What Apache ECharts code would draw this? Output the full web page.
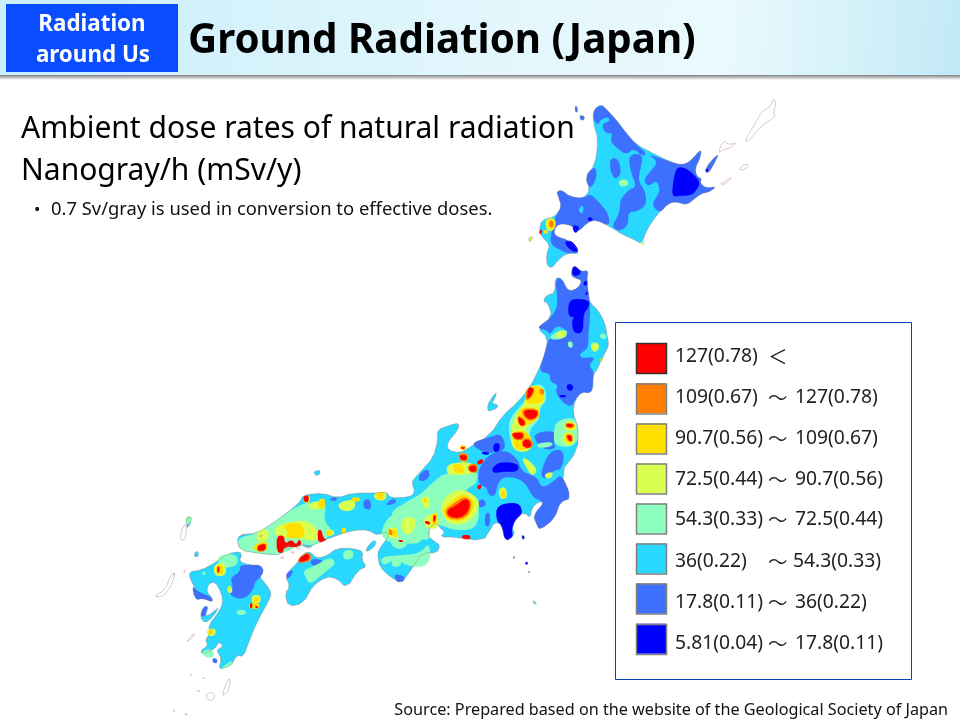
<!DOCTYPE html>
<html><head><meta charset="utf-8">
<style>html,body{margin:0;padding:0;background:#fff}#c{width:960px;height:720px}</style>
<script src="https://cdn.jsdelivr.net/npm/echarts@6/dist/echarts.min.js"></script>
</head><body><div id="c"></div>
<script>
// Dose classes (nGy/h): legend texts, class lower bounds, colours
const legendLow = ['127(0.78)','109(0.67)','90.7(0.56)','72.5(0.44)','54.3(0.33)','36(0.22)','17.8(0.11)','5.81(0.04)'];
const legendSep = ['＜','～','～','～','～','～','～','～'];
const legendHigh = ['','127(0.78)','109(0.67)','90.7(0.56)','72.5(0.44)','54.3(0.33)','36(0.22)','17.8(0.11)'];
const classBounds = [127,109,90.7,72.5,54.3,36,17.8,5.81];
const classColors = ['#ff0000','#ff8000','#ffe000','#d9ff50','#8cffbe','#28d8ff','#3d70ff','#0000ff'];
// Painting order of the map layers, each with a dose value
const layerValues = [45,27,12,45,63,81,100,118,140];
// Traced outlines: [tile, flat x,y list]. Tiles are traced sheets with an origin and a scale.
const tiles = {Z:[0,0,1],A:[500,90,3],B:[450,260,3],C:[390,430,3],D:[220,470,3],E:[140,510,3]};
const land = [
 ['A',[280,60,305,42,320,60,350,90,375,125,410,165,470,195,510,215,545,225,570,215,605,175,600,205,585,235,590,260,605,265,600,280,620,295,650,288,630,305,605,310,585,325,560,345,530,335,505,340,470,375,440,420,425,462,405,450,370,435,330,410,290,390,265,395,232,428,215,405,175,400,160,425,170,440,205,450,243,490,200,490,175,510,155,535,140,525,140,490,150,465,125,440,118,420,125,390,165,380,185,350,175,320,170,305,185,300,210,320,250,325,270,300,255,260,285,225,295,150,280,100]],
 ['Z',[573,265,582,272,588,270,587,280,588,292,590,303,598,310,605,323,607,335,609,345,605,353,600,363,597,370,593,375,593,388,590,393,582,392,575,400,573,413,578,427,578,450,560,473,572,498,560,502,555,518,540,530,537,525,533,515,545,502,538,502,532,508,530,518,525,513,518,515,512,527,515,535,505,542,502,525,495,522,490,530,483,541,453,537,440,537,445,532,440,528,437,523,432,525,427,535,435,542,440,545,437,553,422,553,413,567,402,583,390,577,380,567,378,558,378,550,390,535,387,532,377,535,368,530,357,530,347,532,330,538,317,543,308,548,302,545,295,546,285,545,282,553,275,555,257,553,240,550,237,540,240,535,257,533,270,525,288,512,300,502,303,495,323,493,337,498,353,493,377,493,387,492,390,498,410,497,415,492,412,483,413,480,422,470,433,458,438,440,437,430,450,425,459,423,458,430,447,443,448,450,460,453,470,447,490,435,503,415,517,403,530,387,540,367,545,353,548,338,537,328,552,317,548,303,543,301,547,295,555,293,555,278,562,278,568,292,578,288,582,280,575,278,571,275]],
 ['E',[148,185,185,180,230,155,265,130,300,125,305,135,298,155,330,165,362,165,372,185,358,200,380,225,395,250,385,275,365,310,345,350,325,400,310,440,290,435,275,465,235,480,245,445,228,420,250,410,238,395,225,415,205,425,185,430,182,422,205,405,195,390,215,365,203,350,240,300,248,280,245,250,225,215,205,222,200,245,215,262,220,275,190,265,165,270,170,245,160,225,150,205]],
 ['E',[180,320,190,290,205,288,195,320,215,310,240,285,220,320,195,340]],
 ['D',[195,315,235,275,250,250,270,245,290,265,320,258,350,235,400,235,430,245,425,270,440,290,415,300,380,355,350,325,320,320,280,345,250,400,205,410,195,370,210,350]],
 ['D',[435,240,462,208,470,222,445,245]],
 ['B',[140,395,120,420,112,440,115,455,140,445,145,435,125,430,135,415]],
 ['A',[240,75,255,80,250,92,240,88]],['A',[225,48,232,50,232,70,226,65]],
 ['A',[85,445,98,437,95,450,90,457]],['A',[615,235,650,195,655,195,640,225,625,250]],
 ['E',[165,125,175,125,175,140,162,140]],['E',[140,25,155,20,150,45,140,55]],
 ['D',[280,5,300,0,300,12,288,18]],
 ['C',[395,315,403,318,403,328,397,328]],['C',[407,395,415,397,412,405,405,402]],['C',[369,379,376,380,374,386,369,385]],['C',[415,422,421,424,419,429,415,428]],['C',[428,512,440,518,438,524,430,518]]
];
const outlineIslands = [
 ['A',[655,190,668,152,690,165,712,155,690,175,670,178]],
 ['A',[735,150,760,110,785,65,812,50,820,25,828,40,820,70,828,80,780,110,745,155]],
 ['A',[718,235,740,220,747,230,725,242]],['A',[660,280,672,278,680,270,690,265,695,258,688,272,670,285]],
 ['E',[125,60,135,40,140,55,135,90,120,90]],
 ['E',[40,260,75,240,95,190,105,190,95,225,70,260]],
 ['E',[140,395,160,370,165,372,145,395]],
 ['E',[245,560,262,510,272,508,265,545]],['E',[195,555,215,545,227,560,210,575]],
 ['E',[133,610,143,612,140,618]],['E',[170,540,180,542,178,548]],['E',[150,492,156,494,152,498]],
 ['E',[100,190,106,192,102,198]],['E',[130,180,138,182,134,190]],['E',[188,502,194,504,190,508]],['E',[100,600,106,602,102,607]],
 ['D',[200,230,210,226,212,238,202,240]],['D',[225,232,240,228,238,238]],['D',[255,232,275,226,272,236]],['D',[180,262,192,258,190,268]],['D',[60,195,75,190,72,198]],['D',[118,198,128,192,125,202]],['D',[245,222,258,220,256,228]],['D',[212,246,224,244,222,252]]
];
const bluePatches = [
 ['A',[280,60,305,42,345,85,375,125,410,165,440,190,430,200,400,175,380,195,345,170,330,150,340,130,315,130,305,100,330,95,325,80,300,90,295,105,280,90]],
 ['A',[440,190,510,215,545,225,570,215,605,175,600,205,585,235,590,260,605,265,600,280,620,295,650,288,630,305,605,310,585,325,560,345,530,335,505,340,480,370,455,345,470,320,480,300,470,270,445,290,430,270,455,240,475,215]],
 ['A',[385,205,400,190,430,195,420,240,415,275,435,300,440,345,410,365,385,365,385,405,360,425,335,410,350,385,360,360,360,330,385,300,410,290,395,255]],
 ['A',[330,205,355,205,365,250,345,270,330,240]],['A',[465,210,500,220,490,235,470,235]],
 ['A',[175,320,170,305,185,300,210,320,250,325,270,310,300,340,325,370,330,410,290,390,265,395,232,428,215,405,175,400,160,425,170,440,205,450,243,490,200,490,180,480,155,465,150,445,165,380,185,350]],
 ['A',[255,260,285,225,292,260,270,300]],['A',[240,75,255,80,250,92,240,88]],['A',[225,48,232,50,232,70,226,65]],['A',[615,235,650,195,655,195,640,225,625,250]],
 ['B',[315,55,335,55,355,95,385,85,397,60,375,55,362,45,370,15,395,35,415,30,410,60,420,130,420,170,415,225,415,265,390,280,392,295,440,290,415,315,432,335,430,345,428,385,420,400,395,395,375,420,365,440,340,430,315,395,325,375,300,365,300,340,265,335,285,280,295,235,320,228,352,225,350,210,320,195,300,225,290,210,260,205,280,190,305,170,325,135]],
 ['C',[265,115,300,70,350,60,385,90,395,125,440,140,455,175,490,155,515,130,545,205,510,215,495,265,450,300,440,285,430,255,465,215,430,205,410,165,385,145,345,140,325,155,315,200,295,195,290,170,265,165]],
 ['C',[240,40,300,20,335,10,350,60,300,70,275,65]],['C',[430,10,500,0,490,40,500,55,465,60,440,40]],['C',[480,60,525,60,515,120,490,120,465,150,450,130]],
 ['C',[90,130,115,115,120,140,100,155,85,150]],['C',[15,430,35,440,30,460,15,450]],['C',[285,250,300,245,300,290,285,290]],['C',[262,215,280,205,290,225,270,235]],
 ['D',[330,85,350,80,352,92,330,92]],['D',[430,90,450,85,455,120,430,115]],['D',[495,108,510,90,525,85,530,100]],['D',[525,315,550,315,555,335,530,335]],['D',[275,265,310,270,300,288,270,285]],['D',[195,312,225,295,205,330]],
 ['E',[270,205,300,185,300,165,330,165,362,165,372,185,358,205,345,215,340,240,310,270,265,255,280,230]],
 ['E',[155,225,175,245,200,255,215,262,218,278,190,265,165,270]],['E',[180,320,190,290,205,288,195,320]],['E',[215,445,232,445,232,460,220,460]]
];
const navyPatches = [
 ['A',[530,230,560,235,590,262,600,280,590,300,575,315,540,318,515,320,520,270]],['A',[265,380,280,385,275,395,262,390]],['A',[215,405,240,408,232,428,222,428]],['A',[190,455,215,450,240,485,215,485]],['A',[615,238,625,235,625,248,618,248]],
 ['B',[370,115,420,120,415,145,400,160,400,220,370,220,365,180,375,170,355,170,355,130]],['B',[370,15,385,25,395,40,375,50,365,40]],['B',[400,65,412,62,412,75,402,78]],['B',[410,90,415,105,405,105]],['B',[348,375,365,370,372,388,355,395]],['B',[328,405,348,405,348,412,328,412]],
 ['C',[320,225,385,215,400,250,375,270,365,300,370,320,345,335,335,285,318,270]],['C',[305,115,330,95,385,100,385,125,340,125,310,130]],['C',[310,40,330,40,328,65,310,65]],['C',[275,65,300,68,295,75,275,72]],
 ['C',[395,315,403,318,403,328,397,328]],['C',[407,395,415,397,412,405,405,402]]
];
const cyanPatches = [
 ['A',[240,350,250,345,250,372,235,365]],['C',[330,155,400,150,415,185,410,212,385,215,325,222]],['C',[140,165,165,155,170,180,150,190]],['C',[225,300,240,295,245,310,225,312]],['D',[515,260,545,260,550,295,520,295]],['D',[450,150,490,155,480,195,455,190]]
];
const mintPatches = [
 ['A',[355,270,385,268,385,288,358,290]],['A',[420,450,435,455,430,470]],
 ['B',[180,470,230,420,235,380,280,370,292,420,270,440,268,480,235,510,250,560,190,565,175,520]],['B',[320,480,385,470,385,560,315,560,310,520]],['B',[295,235,318,215,352,208,350,232,320,240]],['B',[352,245,368,243,368,265,355,262]],['B',[450,220,470,222,468,238,450,235]],['B',[418,250,440,245,450,265,432,280]],
 ['C',[60,210,95,190,115,170,160,130,200,130,265,120,260,160,240,170,220,190,260,210,270,260,250,300,190,300,165,290,130,280,115,300,100,330,70,345,30,330,15,280,0,245]],['C',[0,295,30,300,60,340,30,360,0,345]],['C',[5,385,35,385,32,410,5,410]],['C',[440,40,490,35,485,50,445,55]],
 ['D',[50,205,110,190,150,165,240,100,300,95,320,110,310,150,340,185,320,205,290,225,240,225,190,250,150,255,110,250,60,240]],['D',[480,190,510,130,560,140,590,140,630,160,630,215,590,200,560,190,530,215,500,215]],['D',[480,260,550,255,600,250,630,215,630,290,560,290,530,260,490,290]],['D',[250,300,290,285,330,260,350,280,310,310,270,345,255,320]],['D',[370,240,400,240,400,265,370,270]],
 ['E',[180,425,215,415,225,440,200,445]],['E',[250,470,275,450,280,465,235,480]],['E',[290,300,320,300,315,315,290,315]],['E',[235,135,290,130,295,165,260,175,235,165]],['E',[190,180,200,195,185,195]],['E',[135,20,158,18,150,40,140,45]]
];
const limePatches = [
 ['A',[85,445,98,437,95,450,90,457]],['A',[362,272,378,272,372,284]],['A',[420,457,432,459,427,468]],['A',[135,385,168,385,165,420,140,425]],
 ['B',[225,395,240,375,280,380,285,425,270,435,268,470,235,495,225,510,245,560,195,565,180,510,200,460,225,430]],['B',[350,480,378,490,380,510,350,515,340,500]],['B',[340,520,370,525,370,550,345,555]],['B',[320,215,345,210,345,232,320,235]],['B',[420,260,440,245,450,262,432,278]],
 ['C',[150,230,170,195,215,175,260,200,270,225,250,265,215,285,170,280]],['C',[170,100,250,95,260,130,210,135,170,135]],['C',[95,200,120,200,115,225,95,225]],['C',[360,30,390,0,430,30,420,65,375,65]],['C',[325,175,348,170,352,205,330,208]],['C',[395,85,410,85,445,120,425,140,405,105]],['C',[465,130,490,125,485,145,465,145]],['C',[515,10,550,5,555,45,520,45]],['C',[105,255,145,250,145,300,100,290]],['C',[45,260,70,270,60,300,40,290]],['C',[0,300,15,300,30,330,5,320]],
 ['D',[160,170,215,155,260,150,300,185,290,215,240,205,170,205]],['D',[110,190,130,175,150,185,140,215,110,215]],['D',[265,100,310,90,312,115,270,120]],['D',[350,100,405,85,405,120,365,125]],['D',[320,180,340,178,345,195,320,198]],['D',[500,175,530,170,535,200,505,205]],['D',[540,145,590,140,580,190,550,195]],['D',[605,85,625,80,630,115,610,115]],['D',[460,70,500,62,498,92,465,90]],
 ['E',[335,255,362,255,362,280,335,280]],['E',[198,358,228,355,225,378,203,378]],['E',[222,160,258,160,258,198,222,198]],['E',[262,228,275,228,278,250,262,248]]
];
const yellowPatches = [
 ['A',[142,388,165,388,163,416,143,416]],['A',[130,420,145,420,143,432,130,430]],
 ['B',[228,400,250,378,270,378,285,410,275,430,225,432]],['B',[215,440,268,445,268,472,235,497,205,495,200,470]],['B',[190,515,225,510,248,540,245,565,205,565,190,535]],['B',[348,484,375,492,375,506,350,510]],['B',[345,525,365,528,365,548,348,550]],['B',[450,296,460,296,458,305,450,303]],['B',[30,556,48,556,48,570,30,570]],
 ['C',[160,235,190,210,215,190,245,205,255,225,240,255,215,275,175,270,160,255]],['C',[185,105,215,100,225,130,195,130]],['C',[205,70,235,70,235,95,210,95]],['C',[370,30,395,15,420,35,410,60,375,60]],['C',[522,10,550,10,550,38,528,38]],['C',[123,250,145,250,140,285,125,285]],['C',[335,180,345,180,348,205,332,205]],['C',[15,305,25,310,20,325,10,320]],['C',[100,205,112,205,110,218,100,218]],
 ['D',[185,165,235,155,255,180,250,205,195,205,205,185]],['D',[100,225,140,212,145,240,105,245]],['D',[318,182,335,180,338,195,320,197]],['D',[468,68,492,65,490,88,470,88]],['D',[510,180,528,175,530,195,512,198]],['D',[365,175,378,172,378,190,365,190]],['D',[395,82,420,82,420,95,395,95]],['D',[250,80,270,76,270,98,250,98]],['D',[295,88,315,85,315,115,295,118]],
 ['E',[205,360,222,358,220,373,207,373]],['E',[228,165,250,165,252,192,228,192]],['E',[340,262,358,262,358,276,340,276]],['E',[328,278,358,278,358,296,328,296]]
];
const orangePatches = [
 ['A',[148,392,160,392,160,412,148,412]],
 ['B',[268,385,282,388,282,405,270,403]],['B',[228,385,255,382,250,408,225,425]],['B',[217,445,265,447,265,473,240,484,218,470]],['B',[200,465,225,478,228,498,208,500]],['B',[183,517,222,515,224,538,192,542]],['B',[216,535,245,536,250,562,222,568]],['B',[346,487,376,492,368,505,346,503]],['B',[348,522,368,527,368,548,350,540]],
 ['C',[165,238,195,218,222,198,245,212,240,250,212,270,172,265]],['C',[205,70,235,70,233,95,208,92]],['C',[232,105,262,100,263,128,238,128]],['C',[360,8,398,8,402,28,378,30]],['C',[396,28,424,28,420,52,396,52]],
 ['D',[235,262,268,245,276,272,235,282]],['D',[110,225,140,218,138,244,112,246]],['D',[505,178,515,178,518,195,508,195]]
];
const redPatches = [
 ['A',[118,420,128,420,125,433,118,432]],
 ['B',[235,380,252,385,245,405,230,420]],['B',[222,450,262,450,262,470,240,480,222,465]],['B',[205,470,222,480,225,495,212,497,205,485]],['B',[185,520,218,518,220,535,195,538]],['B',[220,538,240,540,245,560,225,565]],['B',[350,490,372,495,365,502,350,500]],['B',[352,525,365,530,365,545,352,535]],['B',[33,560,45,560,45,568,35,568]],
 ['C',[170,240,200,225,225,205,240,215,235,245,210,265,175,260]],['C',[210,75,230,75,230,92,210,88]],['C',[235,110,258,105,260,125,240,125]],['C',[260,95,278,85,280,98,265,105]],['C',[262,165,275,165,272,178,263,178]],['C',[215,315,240,315,242,328,218,328]],['C',[130,255,138,255,135,278,130,278]],['C',[105,272,120,278,118,285]],['C',[25,330,40,330,38,335,25,335]],['C',[362,10,395,10,400,25,380,28]],['C',[400,30,420,30,418,50,398,50]],['C',[530,15,545,15,545,35,535,30]],
 ['D',[170,198,192,196,195,222,215,208,228,225,238,206,246,222,230,232,195,230,187,252,170,244]],['D',[292,182,304,178,310,204,322,210,295,220]],['D',[238,264,264,248,270,268,238,278]],['D',[113,228,137,220,137,241,113,243]],['D',[250,78,266,76,266,96,252,96]],['D',[535,210,550,210,550,216,535,216]],['D',[615,152,630,155,630,165,615,160]],
 ['E',[232,168,238,168,238,190,232,190]],['E',[330,280,337,280,337,295,330,295]],['E',[345,288,355,288,355,294,345,294]]
];

// Round the traced corners and give every ring the same winding, so overlapping rings add up
function roundCorners(pts){
  const out = [];
  for(let i=0;i<pts.length;i++){
    const a = pts[i], b = pts[(i+1)%pts.length];
    out.push([a[0]*0.75+b[0]*0.25, a[1]*0.75+b[1]*0.25],[a[0]*0.25+b[0]*0.75, a[1]*0.25+b[1]*0.75]);
  }
  return out;
}
function toRing(shape, passes){
  const [ox,oy,s] = tiles[shape[0]], f = shape[1];
  let r = [];
  for(let i=0;i<f.length;i+=2) r.push([ox+f[i]/s, -(oy+f[i+1]/s)]);
  for(let p=0;p<passes;p++) r = roundCorners(r);
  let area = 0;
  r.forEach((a,i)=>{const b=r[(i+1)%r.length]; area += a[0]*b[1]-b[0]*a[1];});
  if(area<0) r.reverse();
  r.push(r[0]);
  return [r];
}
function feature(name, shapes, passes){
  return {type:'Feature',properties:{name},geometry:{type:'MultiPolygon',coordinates:shapes.map(s=>toRing(s,passes))}};
}
const layerShapes = [land,bluePatches,navyPatches,cyanPatches,mintPatches,limePatches,yellowPatches,orangePatches,redPatches];
const layerPasses = [1,2,2,2,2,2,1,1,1];
const features = layerShapes.map((s,i)=>feature('layer'+i,s,layerPasses[i]));
features.push(feature('coast',land.concat(outlineIslands),1));
echarts.registerMap('japan',{type:'FeatureCollection',features});

const chart = echarts.init(document.getElementById('c'),null,{renderer:'canvas'});
const font = '"Noto Sans","Noto Sans CJK JP",sans-serif';
const pieces = classBounds.map((b,i)=>({
  label:' ', color:classColors[i], min:b, max:i===0?Infinity:classBounds[i-1]
}));
const swatchY = [343,383.5,423.5,463.5,503.5,543.5,583.5,624];
const labelY = [357,398,439,480,520,562,603,644];
const sepX = [768,768,768,768,768,768,768,768];
const highX = [0,795,795,795,795,793,795,795];
const legendText = [];
labelY.forEach((y,i)=>{
  const st = {fill:'#222',font:'19.3px '+font,verticalAlign:'middle'};
  legendText.push({type:'text',z:2,x:675,y,style:{...st,text:legendLow[i]}});
  legendText.push({type:'text',z:2,x:sepX[i],y,style:{...st,text:legendSep[i],font:'19.5px "Noto Sans CJK JP"'}});
  legendText.push({type:'text',z:2,x:highX[i],y,style:{...st,text:legendHigh[i]}});
});
chart.setOption({
  animation:false,
  backgroundColor:'#fff',
  visualMap:{
    type:'piecewise', show:true, pieces, seriesIndex:0, left:621, top:328,
    orient:'vertical', align:'left', itemWidth:30, itemHeight:30, itemGap:10.1, itemSymbol:'rect',
    textGap:9, padding:15, hoverLink:false, selectedMode:false,
    textStyle:{fontFamily:font,fontSize:18,color:'#222'}
  },
  series:[{
    type:'map', map:'japan', silent:true, roam:false, aspectScale:1,
    boundingCoords:[[0,0],[960,-720]],
    layoutCenter:['50%','50%'], layoutSize:960,
    label:{show:false}, emphasis:{disabled:true}, select:{disabled:true},
    itemStyle:{areaColor:'rgba(0,0,0,0)',borderColor:'rgba(165,110,110,0.75)',borderWidth:0.5},
    data:layerValues.map((value,i)=>({name:'layer'+i,value,itemStyle:{borderWidth:0}}))
  }],
  graphic:{elements:[
    {type:'rect',z:0,shape:{x:0,y:0,width:960,height:76},style:{fill:new echarts.graphic.LinearGradient(0,0,1,1,[{offset:0,color:'#c9eefb'},{offset:0.5,color:'#e2f6fc'},{offset:0.75,color:'#eafafd'},{offset:1,color:'#c2e9f6'}])}},
    {type:'rect',z:0,shape:{x:0,y:75,width:960,height:5},style:{fill:new echarts.graphic.LinearGradient(0,0,0,1,[{offset:0,color:'#808080'},{offset:1,color:'#ffffff'}])}},
    {type:'rect',z:1,shape:{x:6,y:4,width:172,height:68},style:{fill:'#0a4cff'}},
    {type:'text',z:2,x:92,y:25,style:{text:'Radiation',fill:'#fff',font:'bold 22.4px '+font,align:'center',verticalAlign:'middle'}},
    {type:'text',z:2,x:93,y:56,style:{text:'around Us',fill:'#fff',font:'bold 22.4px '+font,align:'center',verticalAlign:'middle'}},
    {type:'text',z:2,x:188,y:42,style:{text:'Ground Radiation (Japan)',fill:'#000',font:'bold 40.3px '+font,verticalAlign:'middle'}},
    {type:'text',z:2,x:21,y:129,style:{text:'Ambient dose rates of natural radiation',fill:'#000',font:'30px '+font,verticalAlign:'middle'}},
    {type:'text',z:2,x:21,y:171,style:{text:'Nanogray/h (mSv/y)',fill:'#000',font:'30px '+font,verticalAlign:'middle'}},
    {type:'text',z:2,x:34,y:210,style:{text:'•',fill:'#111',font:'17px '+font,verticalAlign:'middle'}},
    {type:'text',z:2,x:51,y:210,style:{text:'0.7 Sv/gray is used in conversion to effective doses.',fill:'#111',font:'18.4px '+font,verticalAlign:'middle'}},
    {type:'text',z:2,x:948,y:710,style:{text:'Source: Prepared based on the website of the Geological Society of Japan',fill:'#111',font:'16.2px '+font,align:'right',verticalAlign:'middle'}},
    {type:'rect',z:0,shape:{x:615.5,y:322.5,width:296,height:357},style:{fill:'#fff',stroke:'#0a3fb5',lineWidth:1}}
  ].concat(swatchY.map((y,i)=>({type:'rect',z:100,shape:{x:636.5,y:y+0.5,width:30,height:30},style:{fill:'none',stroke:i===0?'#333':'#808080',lineWidth:1.5}})),legendText)}
});
</script></body></html>
